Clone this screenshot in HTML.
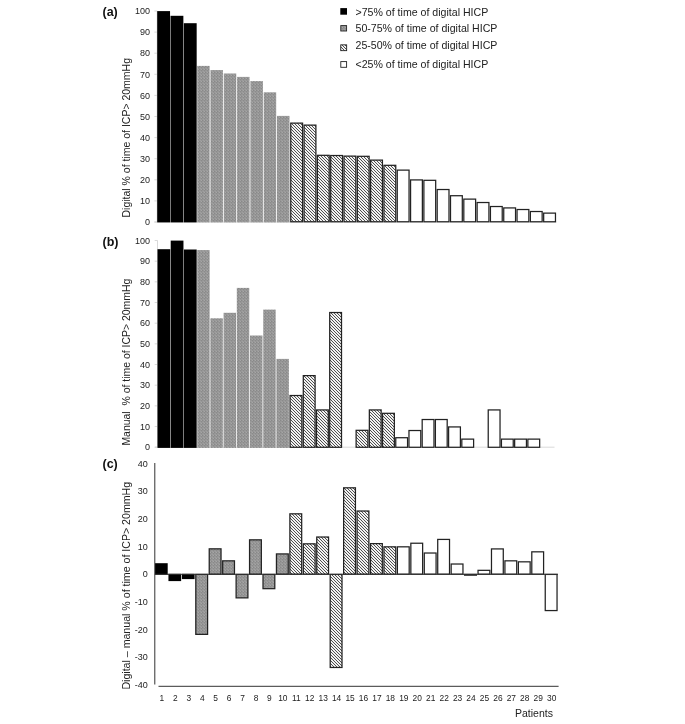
<!DOCTYPE html>
<html lang="en"><head><meta charset="utf-8"><title>Figure</title>
<style>
html,body{margin:0;padding:0;background:#fff;}
svg{display:block;font-family:"Liberation Sans",Arial,sans-serif;fill:#222;}
.t{font-size:9.0px;}
.l{font-size:10.6px;}
.b{font-size:12.5px;font-weight:bold;fill:#111;}
</style></head><body>
<svg width="685" height="724" viewBox="0 0 685 724">
<defs>
<pattern id="pg" width="3" height="3" patternUnits="userSpaceOnUse" shape-rendering="crispEdges">
<rect width="3" height="3" fill="#969696"/><rect width="1" height="1" fill="#a6a6a6"/><rect x="1" y="0" width="1" height="1" fill="#888"/><rect x="0" y="1" width="1" height="1" fill="#8b8b8b"/><rect x="2" y="2" width="1" height="1" fill="#9f9f9f"/>
</pattern>
<pattern id="ph" width="3" height="3" patternUnits="userSpaceOnUse" shape-rendering="crispEdges">
<rect width="3" height="3" fill="#f2f2f2"/><rect width="1" height="1" fill="#505050"/><rect x="1" y="1" width="1" height="1" fill="#505050"/><rect x="2" y="2" width="1" height="1" fill="#505050"/>
</pattern>
</defs>
<rect width="685" height="724" fill="#fff"/>
<g stroke="#cfcfcf" stroke-width="0.8" fill="none">
<line x1="157.2" y1="11.0" x2="157.2" y2="222.0"/>
<line x1="154.39999999999998" y1="222.0" x2="556.5" y2="222.0"/>
<line x1="154.39999999999998" y1="222.00" x2="157.2" y2="222.00"/>
<line x1="154.39999999999998" y1="200.90" x2="157.2" y2="200.90"/>
<line x1="154.39999999999998" y1="179.80" x2="157.2" y2="179.80"/>
<line x1="154.39999999999998" y1="158.70" x2="157.2" y2="158.70"/>
<line x1="154.39999999999998" y1="137.60" x2="157.2" y2="137.60"/>
<line x1="154.39999999999998" y1="116.50" x2="157.2" y2="116.50"/>
<line x1="154.39999999999998" y1="95.40" x2="157.2" y2="95.40"/>
<line x1="154.39999999999998" y1="74.30" x2="157.2" y2="74.30"/>
<line x1="154.39999999999998" y1="53.20" x2="157.2" y2="53.20"/>
<line x1="154.39999999999998" y1="32.10" x2="157.2" y2="32.10"/>
<line x1="154.39999999999998" y1="11.00" x2="157.2" y2="11.00"/>
</g>
<rect x="157.20" y="11.10" width="12.85" height="211.30" fill="#000"/>
<rect x="170.51" y="15.80" width="12.85" height="206.60" fill="#000"/>
<rect x="183.82" y="23.20" width="12.85" height="199.20" fill="#000"/>
<rect x="197.18" y="65.90" width="12.45" height="156.50" fill="url(#pg)"/>
<rect x="210.49" y="70.10" width="12.45" height="152.30" fill="url(#pg)"/>
<rect x="223.80" y="73.50" width="12.45" height="148.90" fill="url(#pg)"/>
<rect x="237.11" y="76.90" width="12.45" height="145.50" fill="url(#pg)"/>
<rect x="250.42" y="81.10" width="12.45" height="141.30" fill="url(#pg)"/>
<rect x="263.73" y="92.30" width="12.45" height="130.10" fill="url(#pg)"/>
<rect x="277.04" y="115.90" width="12.45" height="106.50" fill="url(#pg)"/>
<rect x="290.77" y="123.12" width="11.80" height="98.65" fill="url(#ph)" stroke="#222" stroke-width="1.25"/>
<rect x="304.09" y="125.12" width="11.80" height="96.65" fill="url(#ph)" stroke="#222" stroke-width="1.25"/>
<rect x="317.39" y="155.32" width="11.80" height="66.45" fill="url(#ph)" stroke="#222" stroke-width="1.25"/>
<rect x="330.71" y="155.52" width="11.80" height="66.25" fill="url(#ph)" stroke="#222" stroke-width="1.25"/>
<rect x="344.01" y="156.12" width="11.80" height="65.65" fill="url(#ph)" stroke="#222" stroke-width="1.25"/>
<rect x="357.33" y="156.32" width="11.80" height="65.45" fill="url(#ph)" stroke="#222" stroke-width="1.25"/>
<rect x="370.63" y="160.12" width="11.80" height="61.65" fill="url(#ph)" stroke="#222" stroke-width="1.25"/>
<rect x="383.95" y="165.32" width="11.80" height="56.45" fill="url(#ph)" stroke="#222" stroke-width="1.25"/>
<rect x="397.25" y="170.12" width="11.80" height="51.65" fill="#fff" stroke="#222" stroke-width="1.25"/>
<rect x="410.57" y="179.92" width="11.80" height="41.85" fill="#fff" stroke="#222" stroke-width="1.25"/>
<rect x="423.88" y="180.32" width="11.80" height="41.45" fill="#fff" stroke="#222" stroke-width="1.25"/>
<rect x="437.19" y="189.52" width="11.80" height="32.25" fill="#fff" stroke="#222" stroke-width="1.25"/>
<rect x="450.50" y="195.72" width="11.80" height="26.05" fill="#fff" stroke="#222" stroke-width="1.25"/>
<rect x="463.81" y="199.12" width="11.80" height="22.65" fill="#fff" stroke="#222" stroke-width="1.25"/>
<rect x="477.12" y="202.52" width="11.80" height="19.25" fill="#fff" stroke="#222" stroke-width="1.25"/>
<rect x="490.43" y="206.52" width="11.80" height="15.25" fill="#fff" stroke="#222" stroke-width="1.25"/>
<rect x="503.74" y="207.92" width="11.80" height="13.85" fill="#fff" stroke="#222" stroke-width="1.25"/>
<rect x="517.04" y="209.52" width="11.80" height="12.25" fill="#fff" stroke="#222" stroke-width="1.25"/>
<rect x="530.36" y="211.52" width="11.80" height="10.25" fill="#fff" stroke="#222" stroke-width="1.25"/>
<rect x="543.67" y="213.12" width="11.80" height="8.65" fill="#fff" stroke="#222" stroke-width="1.25"/>
<text class="t" x="150" y="225.20" text-anchor="end">0</text>
<text class="t" x="150" y="204.10" text-anchor="end">10</text>
<text class="t" x="150" y="183.00" text-anchor="end">20</text>
<text class="t" x="150" y="161.90" text-anchor="end">30</text>
<text class="t" x="150" y="140.80" text-anchor="end">40</text>
<text class="t" x="150" y="119.70" text-anchor="end">50</text>
<text class="t" x="150" y="98.60" text-anchor="end">60</text>
<text class="t" x="150" y="77.50" text-anchor="end">70</text>
<text class="t" x="150" y="56.40" text-anchor="end">80</text>
<text class="t" x="150" y="35.30" text-anchor="end">90</text>
<text class="t" x="150" y="14.20" text-anchor="end">100</text>
<g stroke="#cfcfcf" stroke-width="0.8" fill="none">
<line x1="157.5" y1="240.5" x2="157.5" y2="447.2"/>
<line x1="154.7" y1="447.2" x2="554.5" y2="447.2"/>
<line x1="154.7" y1="447.20" x2="157.5" y2="447.20"/>
<line x1="154.7" y1="426.53" x2="157.5" y2="426.53"/>
<line x1="154.7" y1="405.86" x2="157.5" y2="405.86"/>
<line x1="154.7" y1="385.19" x2="157.5" y2="385.19"/>
<line x1="154.7" y1="364.52" x2="157.5" y2="364.52"/>
<line x1="154.7" y1="343.85" x2="157.5" y2="343.85"/>
<line x1="154.7" y1="323.18" x2="157.5" y2="323.18"/>
<line x1="154.7" y1="302.51" x2="157.5" y2="302.51"/>
<line x1="154.7" y1="281.84" x2="157.5" y2="281.84"/>
<line x1="154.7" y1="261.17" x2="157.5" y2="261.17"/>
<line x1="154.7" y1="240.50" x2="157.5" y2="240.50"/>
</g>
<rect x="157.50" y="249.20" width="12.75" height="198.70" fill="#000"/>
<rect x="170.71" y="240.60" width="12.75" height="207.30" fill="#000"/>
<rect x="183.92" y="249.50" width="12.75" height="198.40" fill="#000"/>
<rect x="197.18" y="250.10" width="12.45" height="197.80" fill="url(#pg)"/>
<rect x="210.39" y="318.30" width="12.45" height="129.60" fill="url(#pg)"/>
<rect x="223.60" y="312.80" width="12.45" height="135.10" fill="url(#pg)"/>
<rect x="236.81" y="287.90" width="12.45" height="160.00" fill="url(#pg)"/>
<rect x="250.02" y="335.50" width="12.45" height="112.40" fill="url(#pg)"/>
<rect x="263.23" y="309.60" width="12.45" height="138.30" fill="url(#pg)"/>
<rect x="276.44" y="358.90" width="12.45" height="89.00" fill="url(#pg)"/>
<rect x="290.08" y="395.52" width="11.80" height="51.75" fill="url(#ph)" stroke="#222" stroke-width="1.25"/>
<rect x="303.29" y="375.62" width="11.80" height="71.65" fill="url(#ph)" stroke="#222" stroke-width="1.25"/>
<rect x="316.50" y="409.93" width="11.80" height="37.35" fill="url(#ph)" stroke="#222" stroke-width="1.25"/>
<rect x="329.71" y="312.52" width="11.80" height="134.75" fill="url(#ph)" stroke="#222" stroke-width="1.25"/>
<rect x="356.12" y="430.32" width="11.80" height="16.95" fill="url(#ph)" stroke="#222" stroke-width="1.25"/>
<rect x="369.34" y="409.93" width="11.80" height="37.35" fill="url(#ph)" stroke="#222" stroke-width="1.25"/>
<rect x="382.55" y="413.32" width="11.80" height="33.95" fill="url(#ph)" stroke="#222" stroke-width="1.25"/>
<rect x="395.76" y="437.72" width="11.80" height="9.55" fill="#fff" stroke="#222" stroke-width="1.25"/>
<rect x="408.97" y="430.52" width="11.80" height="16.75" fill="#fff" stroke="#222" stroke-width="1.25"/>
<rect x="422.18" y="419.52" width="11.80" height="27.75" fill="#fff" stroke="#222" stroke-width="1.25"/>
<rect x="435.39" y="419.52" width="11.80" height="27.75" fill="#fff" stroke="#222" stroke-width="1.25"/>
<rect x="448.60" y="426.93" width="11.80" height="20.35" fill="#fff" stroke="#222" stroke-width="1.25"/>
<rect x="461.81" y="439.12" width="11.80" height="8.15" fill="#fff" stroke="#222" stroke-width="1.25"/>
<rect x="488.23" y="409.93" width="11.80" height="37.35" fill="#fff" stroke="#222" stroke-width="1.25"/>
<rect x="501.44" y="439.12" width="11.80" height="8.15" fill="#fff" stroke="#222" stroke-width="1.25"/>
<rect x="514.65" y="439.12" width="11.80" height="8.15" fill="#fff" stroke="#222" stroke-width="1.25"/>
<rect x="527.86" y="439.12" width="11.80" height="8.15" fill="#fff" stroke="#222" stroke-width="1.25"/>
<text class="t" x="150" y="450.40" text-anchor="end">0</text>
<text class="t" x="150" y="429.73" text-anchor="end">10</text>
<text class="t" x="150" y="409.06" text-anchor="end">20</text>
<text class="t" x="150" y="388.39" text-anchor="end">30</text>
<text class="t" x="150" y="367.72" text-anchor="end">40</text>
<text class="t" x="150" y="347.05" text-anchor="end">50</text>
<text class="t" x="150" y="326.38" text-anchor="end">60</text>
<text class="t" x="150" y="305.71" text-anchor="end">70</text>
<text class="t" x="150" y="285.04" text-anchor="end">80</text>
<text class="t" x="150" y="264.37" text-anchor="end">90</text>
<text class="t" x="150" y="243.70" text-anchor="end">100</text>
<rect x="155.00" y="563.20" width="12.70" height="11.60" fill="#000"/>
<rect x="168.44" y="573.80" width="12.70" height="7.30" fill="#000"/>
<rect x="181.88" y="573.80" width="12.70" height="5.30" fill="#000"/>
<rect x="195.79" y="574.42" width="11.80" height="59.95" fill="url(#pg)" stroke="#222" stroke-width="1.25"/>
<rect x="209.23" y="548.83" width="11.80" height="25.35" fill="url(#pg)" stroke="#222" stroke-width="1.25"/>
<rect x="222.67" y="560.83" width="11.80" height="13.35" fill="url(#pg)" stroke="#222" stroke-width="1.25"/>
<rect x="236.11" y="574.42" width="11.80" height="23.45" fill="url(#pg)" stroke="#222" stroke-width="1.25"/>
<rect x="249.55" y="539.83" width="11.80" height="34.35" fill="url(#pg)" stroke="#222" stroke-width="1.25"/>
<rect x="263.00" y="574.42" width="11.80" height="14.25" fill="url(#pg)" stroke="#222" stroke-width="1.25"/>
<rect x="276.44" y="553.92" width="11.80" height="20.25" fill="url(#pg)" stroke="#222" stroke-width="1.25"/>
<rect x="289.88" y="513.83" width="11.80" height="60.35" fill="url(#ph)" stroke="#222" stroke-width="1.25"/>
<rect x="303.32" y="543.83" width="11.80" height="30.35" fill="url(#ph)" stroke="#222" stroke-width="1.25"/>
<rect x="316.75" y="537.02" width="11.80" height="37.15" fill="url(#ph)" stroke="#222" stroke-width="1.25"/>
<rect x="330.20" y="574.42" width="11.80" height="93.05" fill="url(#ph)" stroke="#222" stroke-width="1.25"/>
<rect x="343.63" y="487.82" width="11.80" height="86.35" fill="url(#ph)" stroke="#222" stroke-width="1.25"/>
<rect x="357.08" y="511.02" width="11.80" height="63.15" fill="url(#ph)" stroke="#222" stroke-width="1.25"/>
<rect x="370.51" y="543.62" width="11.80" height="30.55" fill="url(#ph)" stroke="#222" stroke-width="1.25"/>
<rect x="383.96" y="546.83" width="11.80" height="27.35" fill="url(#ph)" stroke="#222" stroke-width="1.25"/>
<rect x="397.39" y="546.83" width="11.80" height="27.35" fill="#fff" stroke="#222" stroke-width="1.25"/>
<rect x="410.84" y="543.23" width="11.80" height="30.95" fill="#fff" stroke="#222" stroke-width="1.25"/>
<rect x="424.28" y="553.02" width="11.80" height="21.15" fill="#fff" stroke="#222" stroke-width="1.25"/>
<rect x="437.72" y="539.42" width="11.80" height="34.75" fill="#fff" stroke="#222" stroke-width="1.25"/>
<rect x="451.16" y="564.02" width="11.80" height="10.15" fill="#fff" stroke="#222" stroke-width="1.25"/>
<rect x="464.60" y="574.42" width="11.80" height="0.75" fill="#fff" stroke="#222" stroke-width="1.25"/>
<rect x="478.04" y="570.33" width="11.80" height="3.85" fill="#fff" stroke="#222" stroke-width="1.25"/>
<rect x="491.48" y="548.92" width="11.80" height="25.25" fill="#fff" stroke="#222" stroke-width="1.25"/>
<rect x="504.92" y="560.83" width="11.80" height="13.35" fill="#fff" stroke="#222" stroke-width="1.25"/>
<rect x="518.36" y="561.83" width="11.80" height="12.35" fill="#fff" stroke="#222" stroke-width="1.25"/>
<rect x="531.79" y="551.83" width="11.80" height="22.35" fill="#fff" stroke="#222" stroke-width="1.25"/>
<rect x="545.24" y="574.42" width="11.80" height="36.15" fill="#fff" stroke="#222" stroke-width="1.25"/>
<g stroke="#333" stroke-width="1" fill="none">
<line x1="154.8" y1="463" x2="154.8" y2="684.5"/>
<line x1="158.5" y1="686.3" x2="558.6" y2="686.3"/>
<line x1="154.8" y1="574.3" x2="558" y2="574.3"/>
</g>
<text class="t" x="147.8" y="687.80" text-anchor="end">-40</text>
<text class="t" x="147.8" y="660.18" text-anchor="end">-30</text>
<text class="t" x="147.8" y="632.55" text-anchor="end">-20</text>
<text class="t" x="147.8" y="604.93" text-anchor="end">-10</text>
<text class="t" x="147.8" y="577.30" text-anchor="end">0</text>
<text class="t" x="147.8" y="549.68" text-anchor="end">10</text>
<text class="t" x="147.8" y="522.05" text-anchor="end">20</text>
<text class="t" x="147.8" y="494.43" text-anchor="end">30</text>
<text class="t" x="147.8" y="466.80" text-anchor="end">40</text>
<text class="t" style="font-size:8.4px" x="161.90" y="700.8" text-anchor="middle">1</text>
<text class="t" style="font-size:8.4px" x="175.34" y="700.8" text-anchor="middle">2</text>
<text class="t" style="font-size:8.4px" x="188.78" y="700.8" text-anchor="middle">3</text>
<text class="t" style="font-size:8.4px" x="202.22" y="700.8" text-anchor="middle">4</text>
<text class="t" style="font-size:8.4px" x="215.66" y="700.8" text-anchor="middle">5</text>
<text class="t" style="font-size:8.4px" x="229.10" y="700.8" text-anchor="middle">6</text>
<text class="t" style="font-size:8.4px" x="242.54" y="700.8" text-anchor="middle">7</text>
<text class="t" style="font-size:8.4px" x="255.98" y="700.8" text-anchor="middle">8</text>
<text class="t" style="font-size:8.4px" x="269.42" y="700.8" text-anchor="middle">9</text>
<text class="t" style="font-size:8.4px" x="282.86" y="700.8" text-anchor="middle">10</text>
<text class="t" style="font-size:8.4px" x="296.30" y="700.8" text-anchor="middle">11</text>
<text class="t" style="font-size:8.4px" x="309.74" y="700.8" text-anchor="middle">12</text>
<text class="t" style="font-size:8.4px" x="323.18" y="700.8" text-anchor="middle">13</text>
<text class="t" style="font-size:8.4px" x="336.62" y="700.8" text-anchor="middle">14</text>
<text class="t" style="font-size:8.4px" x="350.06" y="700.8" text-anchor="middle">15</text>
<text class="t" style="font-size:8.4px" x="363.50" y="700.8" text-anchor="middle">16</text>
<text class="t" style="font-size:8.4px" x="376.94" y="700.8" text-anchor="middle">17</text>
<text class="t" style="font-size:8.4px" x="390.38" y="700.8" text-anchor="middle">18</text>
<text class="t" style="font-size:8.4px" x="403.82" y="700.8" text-anchor="middle">19</text>
<text class="t" style="font-size:8.4px" x="417.26" y="700.8" text-anchor="middle">20</text>
<text class="t" style="font-size:8.4px" x="430.70" y="700.8" text-anchor="middle">21</text>
<text class="t" style="font-size:8.4px" x="444.14" y="700.8" text-anchor="middle">22</text>
<text class="t" style="font-size:8.4px" x="457.58" y="700.8" text-anchor="middle">23</text>
<text class="t" style="font-size:8.4px" x="471.02" y="700.8" text-anchor="middle">24</text>
<text class="t" style="font-size:8.4px" x="484.46" y="700.8" text-anchor="middle">25</text>
<text class="t" style="font-size:8.4px" x="497.90" y="700.8" text-anchor="middle">26</text>
<text class="t" style="font-size:8.4px" x="511.34" y="700.8" text-anchor="middle">27</text>
<text class="t" style="font-size:8.4px" x="524.78" y="700.8" text-anchor="middle">28</text>
<text class="t" style="font-size:8.4px" x="538.22" y="700.8" text-anchor="middle">29</text>
<text class="t" style="font-size:8.4px" x="551.66" y="700.8" text-anchor="middle">30</text>
<text class="l" x="515" y="716.8" textLength="38" lengthAdjust="spacingAndGlyphs">Patients</text>
<text class="l" transform="translate(129.8,217.5) rotate(-90)" textLength="159.5" lengthAdjust="spacingAndGlyphs">Digital % of time of ICP&gt; 20mmHg</text>
<text class="l" transform="translate(129.6,445.6) rotate(-90)" textLength="167" lengthAdjust="spacingAndGlyphs">Manual&#160; % of time of ICP&gt; 20mmHg</text>
<text class="l" transform="translate(130,689.6) rotate(-90)" textLength="207.7" lengthAdjust="spacingAndGlyphs">Digital – manual % of time of ICP&gt; 20mmHg</text>
<text class="b" x="102.5" y="15.9">(a)</text>
<text class="b" x="102.5" y="245.6">(b)</text>
<text class="b" x="102.5" y="467.9">(c)</text>
<rect x="340.3" y="8.1" width="6.7" height="6.6" fill="#000"/>
<rect x="340.8" y="25.6" width="5.8" height="5.4" fill="url(#pg)" stroke="#222" stroke-width="0.9"/>
<rect x="340.75" y="44.85" width="5.90" height="5.80" fill="url(#ph)" stroke="#222" stroke-width="0.9"/>
<rect x="340.8" y="61.6" width="5.8" height="5.7" fill="#fff" stroke="#222" stroke-width="0.9"/>
<text class="l" x="355.5" y="15.8">&gt;75% of time of digital HICP</text>
<text class="l" x="355.5" y="31.9">50-75% of time of digital HICP</text>
<text class="l" x="355.5" y="48.8">25-50% of time of digital HICP</text>
<text class="l" x="355.5" y="68.3">&lt;25% of time of digital HICP</text>
</svg></body></html>
